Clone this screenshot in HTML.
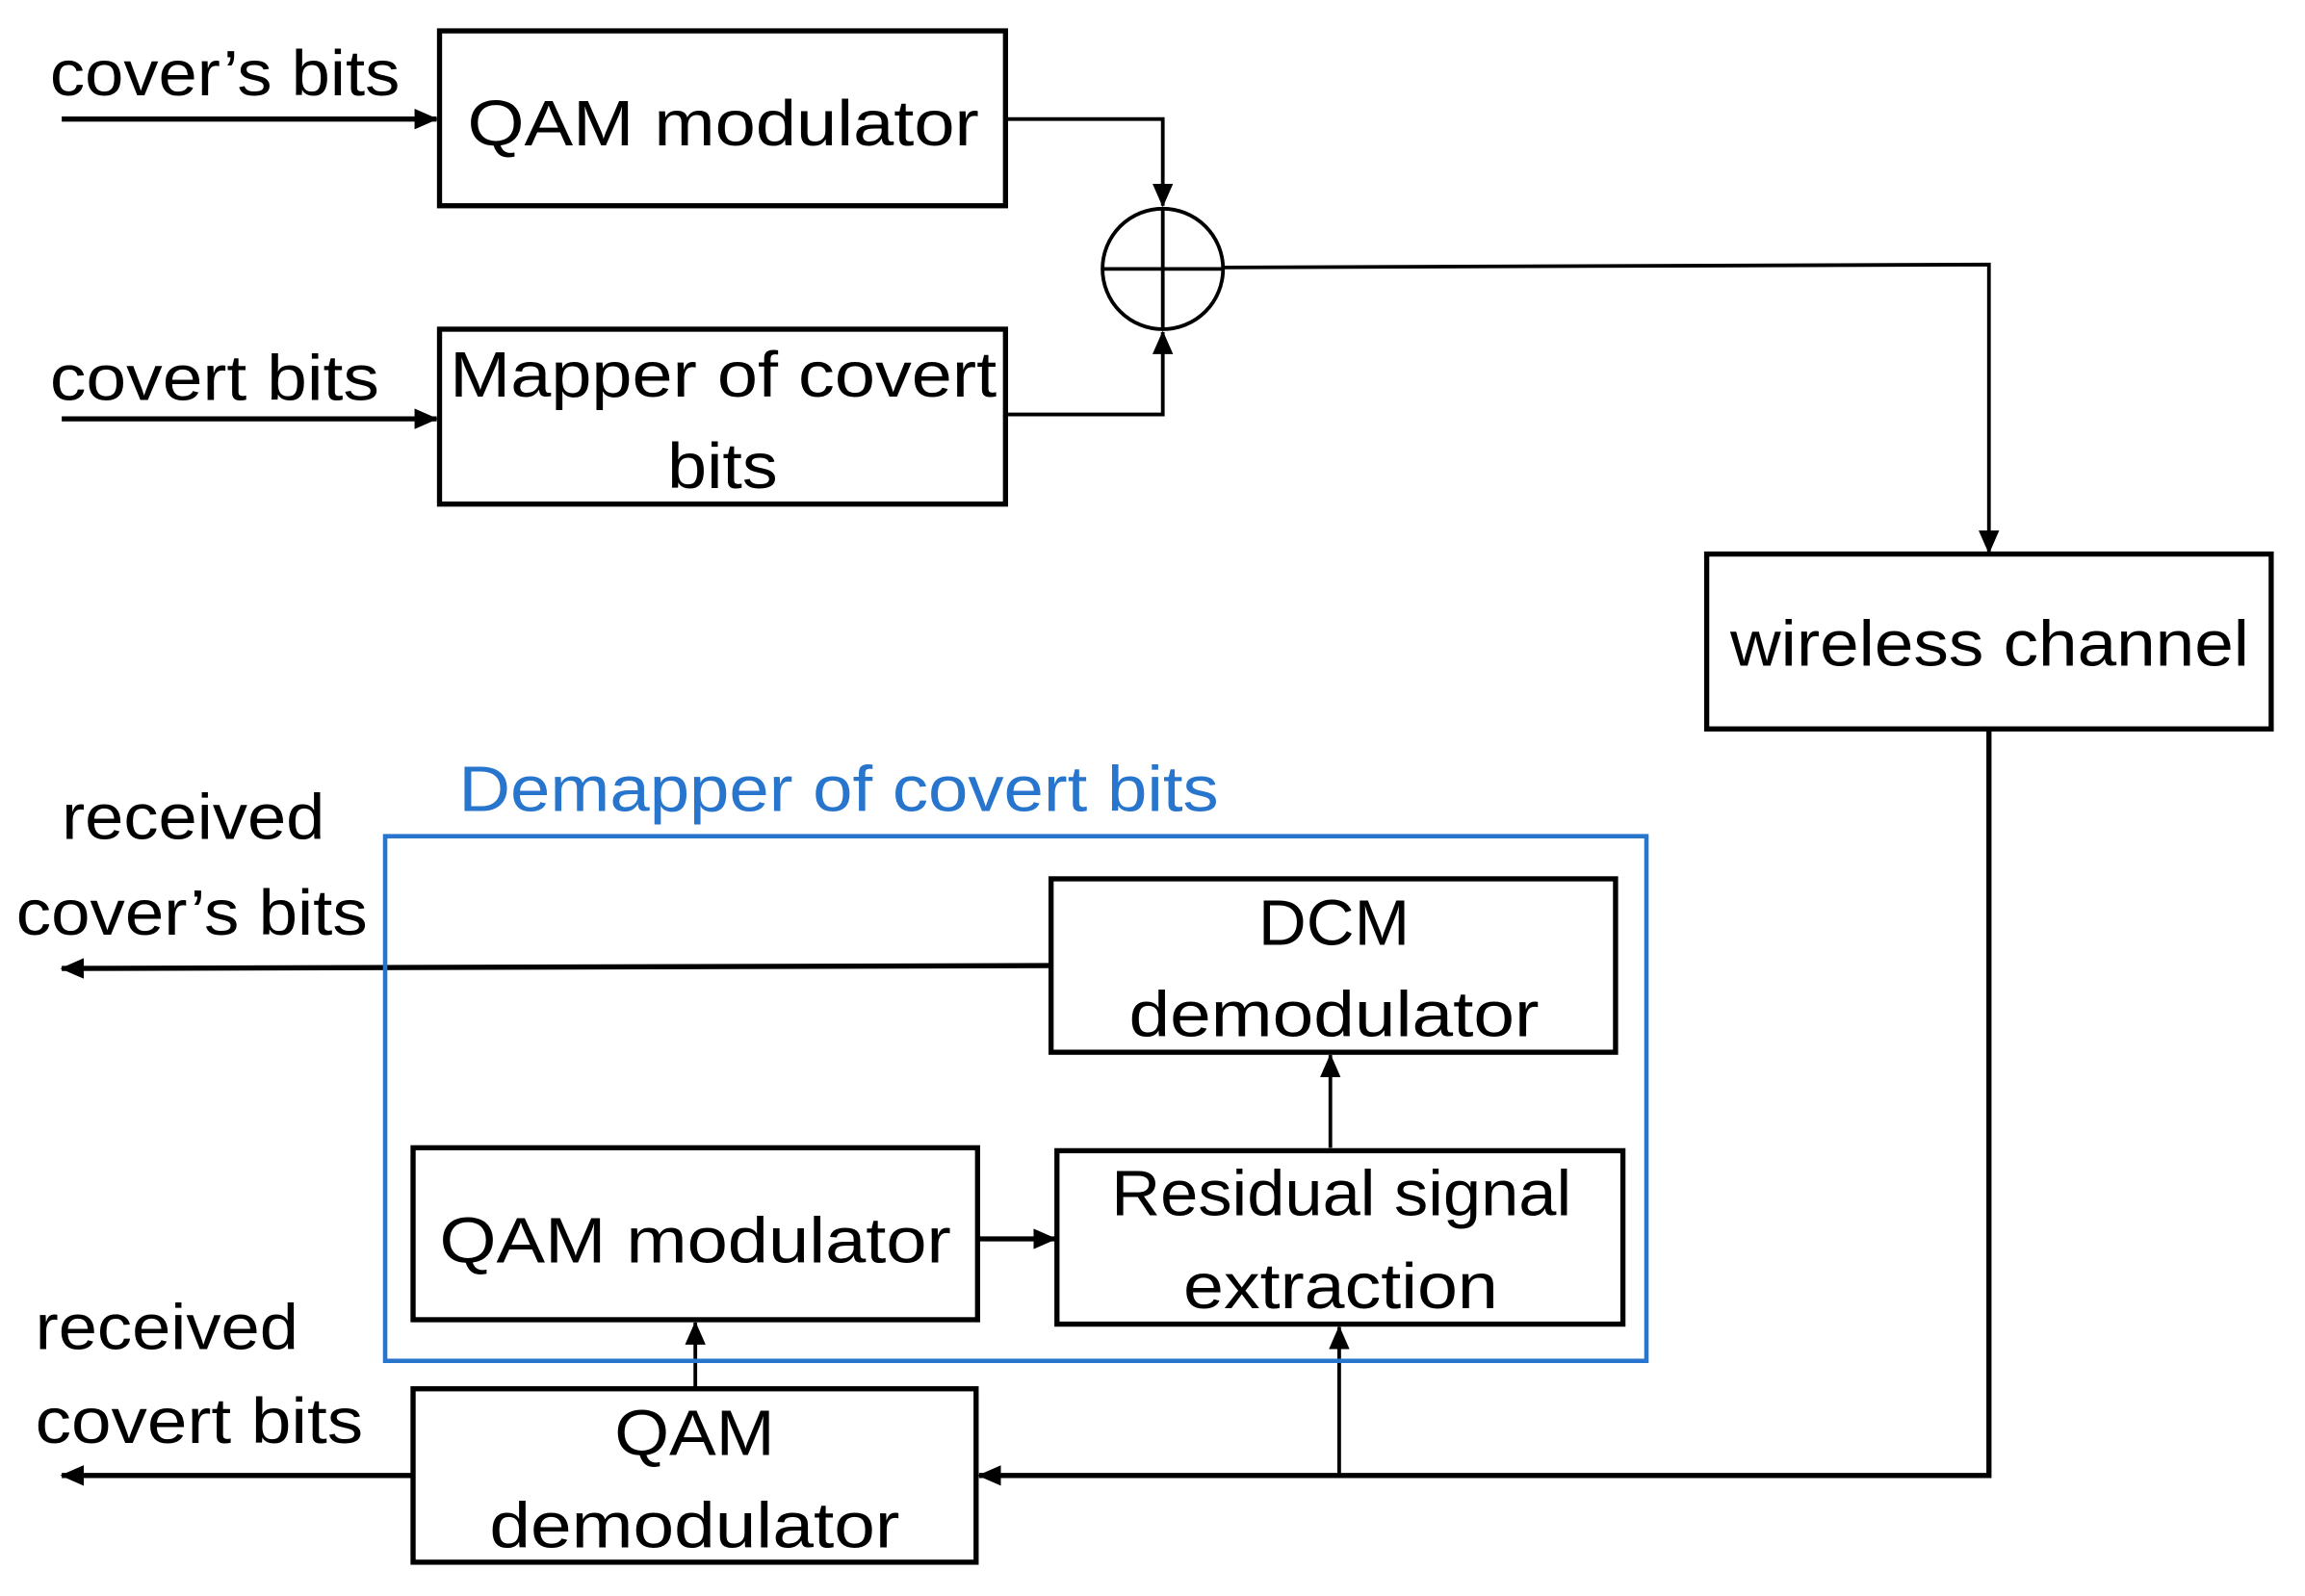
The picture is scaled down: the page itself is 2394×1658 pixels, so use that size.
<!DOCTYPE html>
<html><head><meta charset="utf-8"><style>html,body{margin:0;padding:0;background:#fff}svg{display:block}</style></head>
<body>
<svg width="2394" height="1658" viewBox="0 0 1568 1086" preserveAspectRatio="none" xmlns="http://www.w3.org/2000/svg" font-family="Liberation Sans, sans-serif" font-size="44">
<defs>
<marker id="b" markerWidth="16" markerHeight="14" refX="15" refY="7" orient="auto" markerUnits="userSpaceOnUse" viewBox="0 0 16 14"><path d="M0,0 L16,7 L0,14 z" fill="#000"/></marker>
</defs>
<g fill="none" stroke="#000" stroke-width="3.5">
<rect x="299" y="21" width="385" height="119"/>
<rect x="299" y="224" width="385" height="119"/>
<rect x="1161" y="377" width="384" height="119"/>
<rect x="715" y="598" width="384" height="118"/>
<rect x="281" y="781" width="384" height="117"/>
<rect x="719" y="783" width="385" height="118"/>
<rect x="281" y="945" width="383" height="118"/>
<circle cx="791" cy="183" r="41" stroke-width="2.5"/>
<line x1="750" y1="183" x2="832" y2="183" stroke-width="2.5"/>
<line x1="791" y1="142" x2="791" y2="224" stroke-width="2.5"/>
<path d="M42,81 H297" marker-end="url(#b)"/>
<path d="M42,285 H297" marker-end="url(#b)"/>
<path d="M684,81 H791 V140" stroke-width="2.5" marker-end="url(#b)"/>
<path d="M684,282 H791 V226" stroke-width="2.5" marker-end="url(#b)"/>
<path d="M832,182 L1353,180 V376" stroke-width="2.5" marker-end="url(#b)"/>
<path d="M1353,496 V1004 H666" marker-end="url(#b)"/>
<path d="M715,657 L42,659" marker-end="url(#b)"/>
<path d="M281,1004 H42" marker-end="url(#b)"/>
<path d="M665,843 H718" marker-end="url(#b)"/>
<path d="M905,781 V718" stroke-width="2.5" marker-end="url(#b)"/>
<path d="M473,945 V900" stroke-width="2.5" marker-end="url(#b)"/>
<path d="M911,1003 V903" stroke-width="2.5" marker-end="url(#b)"/>
</g>
<rect x="262" y="569" width="858" height="357" fill="none" stroke="#2775cc" stroke-width="3"/>
<g fill="#000">
<text x="34" y="65" textLength="238" lengthAdjust="spacingAndGlyphs">cover’s bits</text>
<text x="318" y="99" textLength="348" lengthAdjust="spacingAndGlyphs">QAM modulator</text>
<text x="34" y="272" textLength="224" lengthAdjust="spacingAndGlyphs">covert bits</text>
<text x="306" y="270" textLength="372" lengthAdjust="spacingAndGlyphs">Mapper of covert</text>
<text x="454" y="332" textLength="75" lengthAdjust="spacingAndGlyphs">bits</text>
<text x="1177" y="453" textLength="353" lengthAdjust="spacingAndGlyphs">wireless channel</text>
<text x="42" y="571" textLength="179" lengthAdjust="spacingAndGlyphs">received</text>
<text x="11" y="636" textLength="239" lengthAdjust="spacingAndGlyphs">cover’s bits</text>
<text x="856" y="643" textLength="103" lengthAdjust="spacingAndGlyphs">DCM</text>
<text x="768" y="705" textLength="279" lengthAdjust="spacingAndGlyphs">demodulator</text>
<text x="299" y="859" textLength="348" lengthAdjust="spacingAndGlyphs">QAM modulator</text>
<text x="756" y="827" textLength="313" lengthAdjust="spacingAndGlyphs">Residual signal</text>
<text x="805" y="890" textLength="214" lengthAdjust="spacingAndGlyphs">extraction</text>
<text x="24" y="918" textLength="179" lengthAdjust="spacingAndGlyphs">received</text>
<text x="24" y="982" textLength="223" lengthAdjust="spacingAndGlyphs">covert bits</text>
<text x="418" y="990" textLength="109" lengthAdjust="spacingAndGlyphs">QAM</text>
<text x="333" y="1053" textLength="279" lengthAdjust="spacingAndGlyphs">demodulator</text>
</g>
<text x="312" y="552" fill="#2775cc" textLength="517" lengthAdjust="spacingAndGlyphs">Demapper of covert bits</text>
</svg>
</body></html>
